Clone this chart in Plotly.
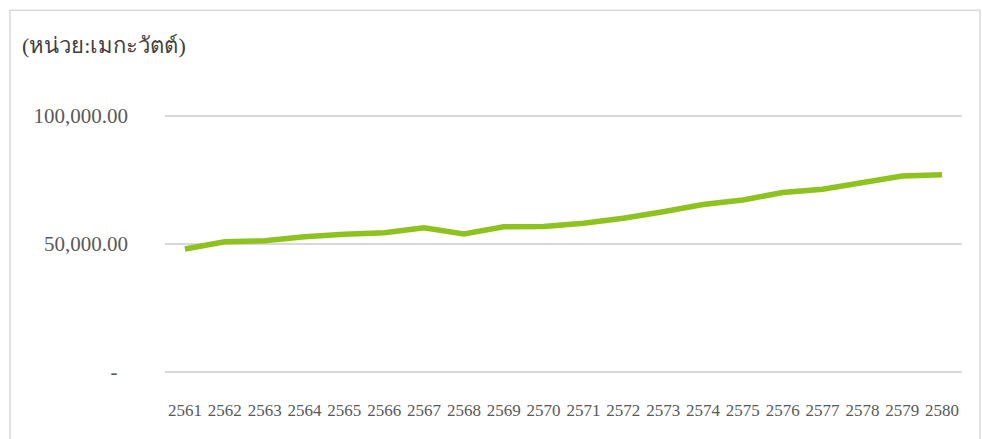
import plotly.graph_objects as go

years = [str(y) for y in range(2561, 2581)]
capacity_mw = [48050, 50900, 51300, 52850, 53800, 54400, 56350, 53900, 56750, 56800,
               58100, 60050, 62600, 65450, 67200, 70150, 71400, 73950, 76550, 77050]
y_tick_vals = [0, 50000, 100000]
y_tick_text = ["-\u00a0\u00a0", "50,000.00", "100,000.00"]
unit_title = "(หน่วย:เมกะวัตต์)"

fig = go.Figure()
fig.add_trace(go.Scatter(
    x=years, y=capacity_mw, mode="lines",
    line=dict(color="#8DC21F", width=5.5),
    hoverinfo="x+y", showlegend=False,
))

font_family = "Liberation Serif, Times New Roman, serif"
fig.update_layout(
    width=982, height=439,
    margin=dict(l=165, r=20, t=111, b=62),
    paper_bgcolor="white", plot_bgcolor="white",
    font=dict(family=font_family, color="#595959"),
    xaxis=dict(
        type="category", range=[-0.5, 19.5],
        showgrid=False, zeroline=False, showline=False,
        ticks="", tickfont=dict(size=17, color="#595959"),
        ticklabelstandoff=21,
    ),
    yaxis=dict(
        range=[-2000, 102000], tickvals=y_tick_vals, ticktext=y_tick_text,
        showgrid=True, gridcolor="#D9D9D9", gridwidth=1.5,
        zeroline=False, showline=False, ticks="",
        tickfont=dict(size=21, color="#595959"),
        ticklabelstandoff=36,
    ),
    shapes=[dict(
        type="rect", xref="paper", yref="paper",
        x0=-0.1945, x1=1.0226, y0=-0.25, y1=1.379,
        line=dict(color="#D9D9D9", width=1.5), fillcolor="rgba(0,0,0,0)",
        layer="below",
    )],
    annotations=[dict(
        text=unit_title, xref="paper", yref="paper",
        x=-0.182, y=1.245, xanchor="left", yanchor="middle",
        showarrow=False, font=dict(size=22, color="#404040", family=font_family),
    )],
)

fig.write_html("out.html", config={"displayModeBar": False},
               post_script="document.body.style.margin='0';document.body.style.padding='0';")
